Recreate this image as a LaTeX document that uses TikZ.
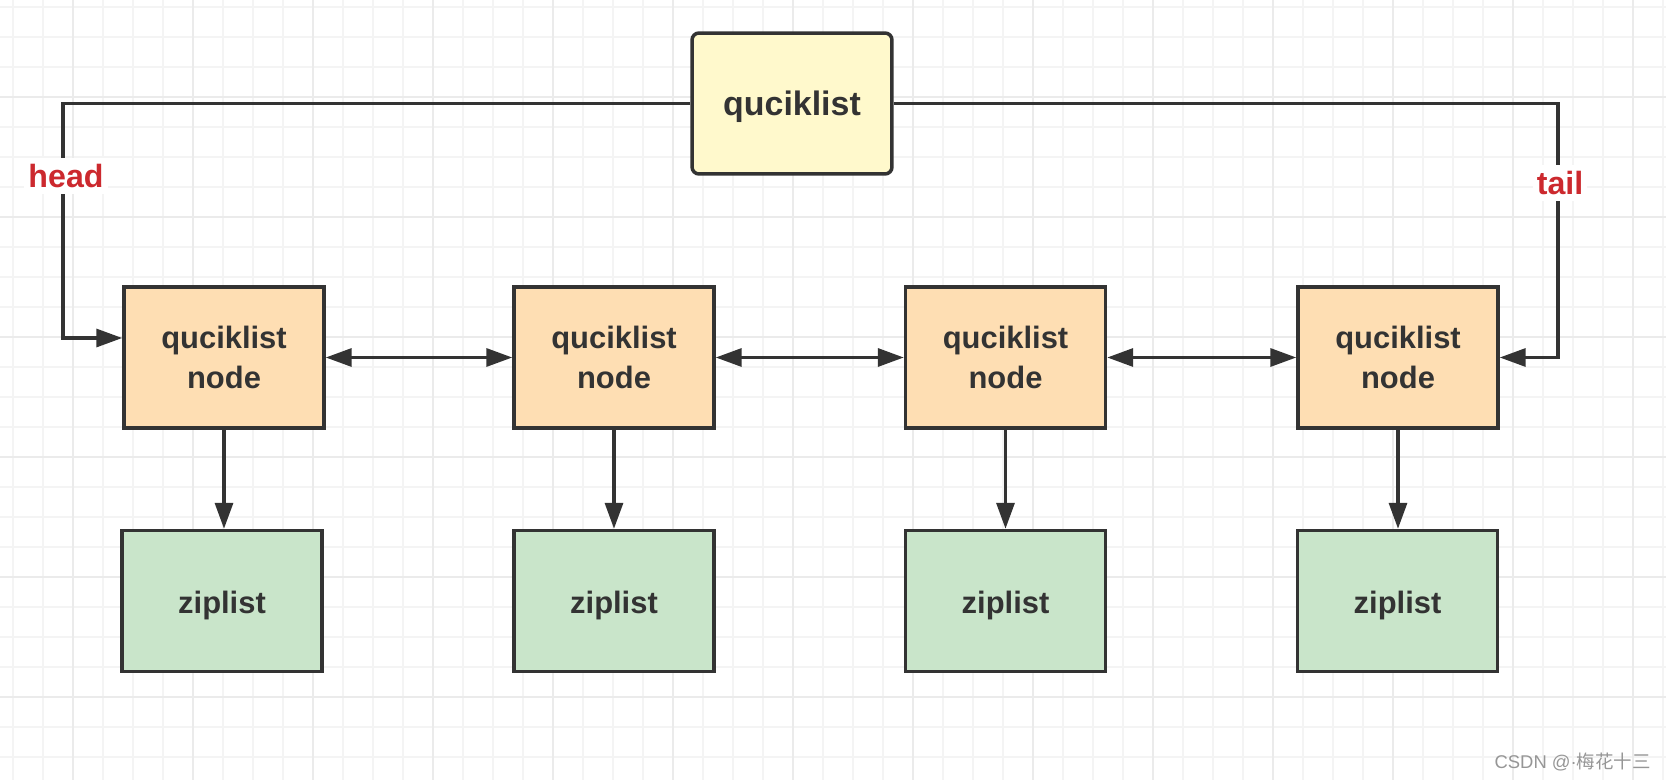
\documentclass[tikz,border=0pt]{standalone}
\usepackage{fontspec}
\setmainfont{Liberation Sans}
\newfontfamily\cjkfont{Noto Sans CJK SC}
\usetikzlibrary{arrows.meta}
\definecolor{ln}{RGB}{51,51,51}
\definecolor{gridminor}{RGB}{244,244,244}
\definecolor{gridmajor}{RGB}{235,235,235}
\definecolor{topfill}{RGB}{255,249,204}
\definecolor{nodefill}{RGB}{254,222,179}
\definecolor{zipfill}{RGB}{201,229,202}
\definecolor{lblred}{RGB}{204,41,46}
\definecolor{wmgray}{RGB}{150,150,150}
\newcommand{\lowertext}[2]{\raisebox{-#1}[\height][\depth]{#2}}
\tikzset{
  gminor/.style={draw=gridminor, line width=0.035cm},
  gmajor/.style={draw=gridmajor, line width=0.04cm},
  boxbase/.style={draw=ln, line width=0.07cm, minimum width=4cm, minimum height=2.82cm, inner sep=0pt, text=ln, align=center, font=\bfseries\fontsize{17.6pt}{21pt}\selectfont},
  topbox/.style={boxbase, fill=topfill, rounded corners=0.14cm, font=\bfseries\fontsize{19.3pt}{23pt}\selectfont},
  qnode/.style={boxbase, fill=nodefill},
  zipbox/.style={boxbase, fill=zipfill},
  conn/.style={draw=ln, line width=0.066cm},
  arr/.style={conn, -{Triangle[length=0.52cm,width=0.36cm]}},
  darr/.style={conn, {Triangle[length=0.52cm,width=0.36cm]}-{Triangle[length=0.52cm,width=0.36cm]}},
  lbl/.style={fill=white, text=lblred, inner xsep=0.08cm, inner ysep=0.12cm, font=\bfseries\fontsize{18.3pt}{22pt}\selectfont},
}
\begin{document}
\begin{tikzpicture}[x=0.02cm,y=-0.02cm]
\useasboundingbox (0,0) rectangle (1666,780);
\fill[white] (0,0) rectangle (1666,780);
% grid
\foreach \x in {13,43,...,1666} \draw[gminor] (\x,0) -- (\x,780);
\foreach \y in {7,37,...,780} \draw[gminor] (0,\y) -- (1666,\y);
\foreach \x in {73,193,...,1666} \draw[gmajor] (\x,0) -- (\x,780);
\foreach \y in {97,217,...,780} \draw[gmajor] (0,\y) -- (1666,\y);

% nodes
\node[topbox] (top) at (792,103.5) {\lowertext{0.06cm}{quciklist}};
\node[qnode] (n1) at (224,357.5) {quciklist\\[2pt]node};
\node[qnode] (n2) at (614,357.5) {quciklist\\[2pt]node};
\node[qnode] (n3) at (1005.5,357.5) {quciklist\\[2pt]node};
\node[qnode] (n4) at (1398,357.5) {quciklist\\[2pt]node};
\node[zipbox] (z1) at (222,601) {\lowertext{0.1cm}{ziplist}};
\node[zipbox] (z2) at (614,601) {\lowertext{0.1cm}{ziplist}};
\node[zipbox] (z3) at (1005.5,601) {\lowertext{0.1cm}{ziplist}};
\node[zipbox] (z4) at (1397.5,601) {\lowertext{0.1cm}{ziplist}};

% head / tail
\coordinate (hk) at (63,103.5);
\coordinate (tk) at (1558,357.5);
\draw[arr] (top.west) -- (hk) |- ([yshift=0.39cm]n1.west);
\draw[arr] (top.east) -| (tk) -- (n4.east);
\node[lbl] (head) at (66,176) {head};
\node[lbl] (tail) at (1560,183) {tail};

% links
\draw[darr] (n1.east) -- (n2.west);
\draw[darr] (n2.east) -- (n3.west);
\draw[darr] (n3.east) -- (n4.west);
\draw[arr] (n1.south) -- (n1.south |- z1.north);
\draw[arr] (n2.south) -- (n2.south |- z2.north);
\draw[arr] (n3.south) -- (n3.south |- z3.north);
\draw[arr] (n4.south) -- (n4.south |- z4.north);

% watermark
\node[anchor=east, text=wmgray, inner sep=0pt, font=\fontsize{10.5pt}{12pt}\selectfont] (wm) at (1651,762) {CSDN @·{\cjkfont 梅花十三}};
\end{tikzpicture}
\end{document}
